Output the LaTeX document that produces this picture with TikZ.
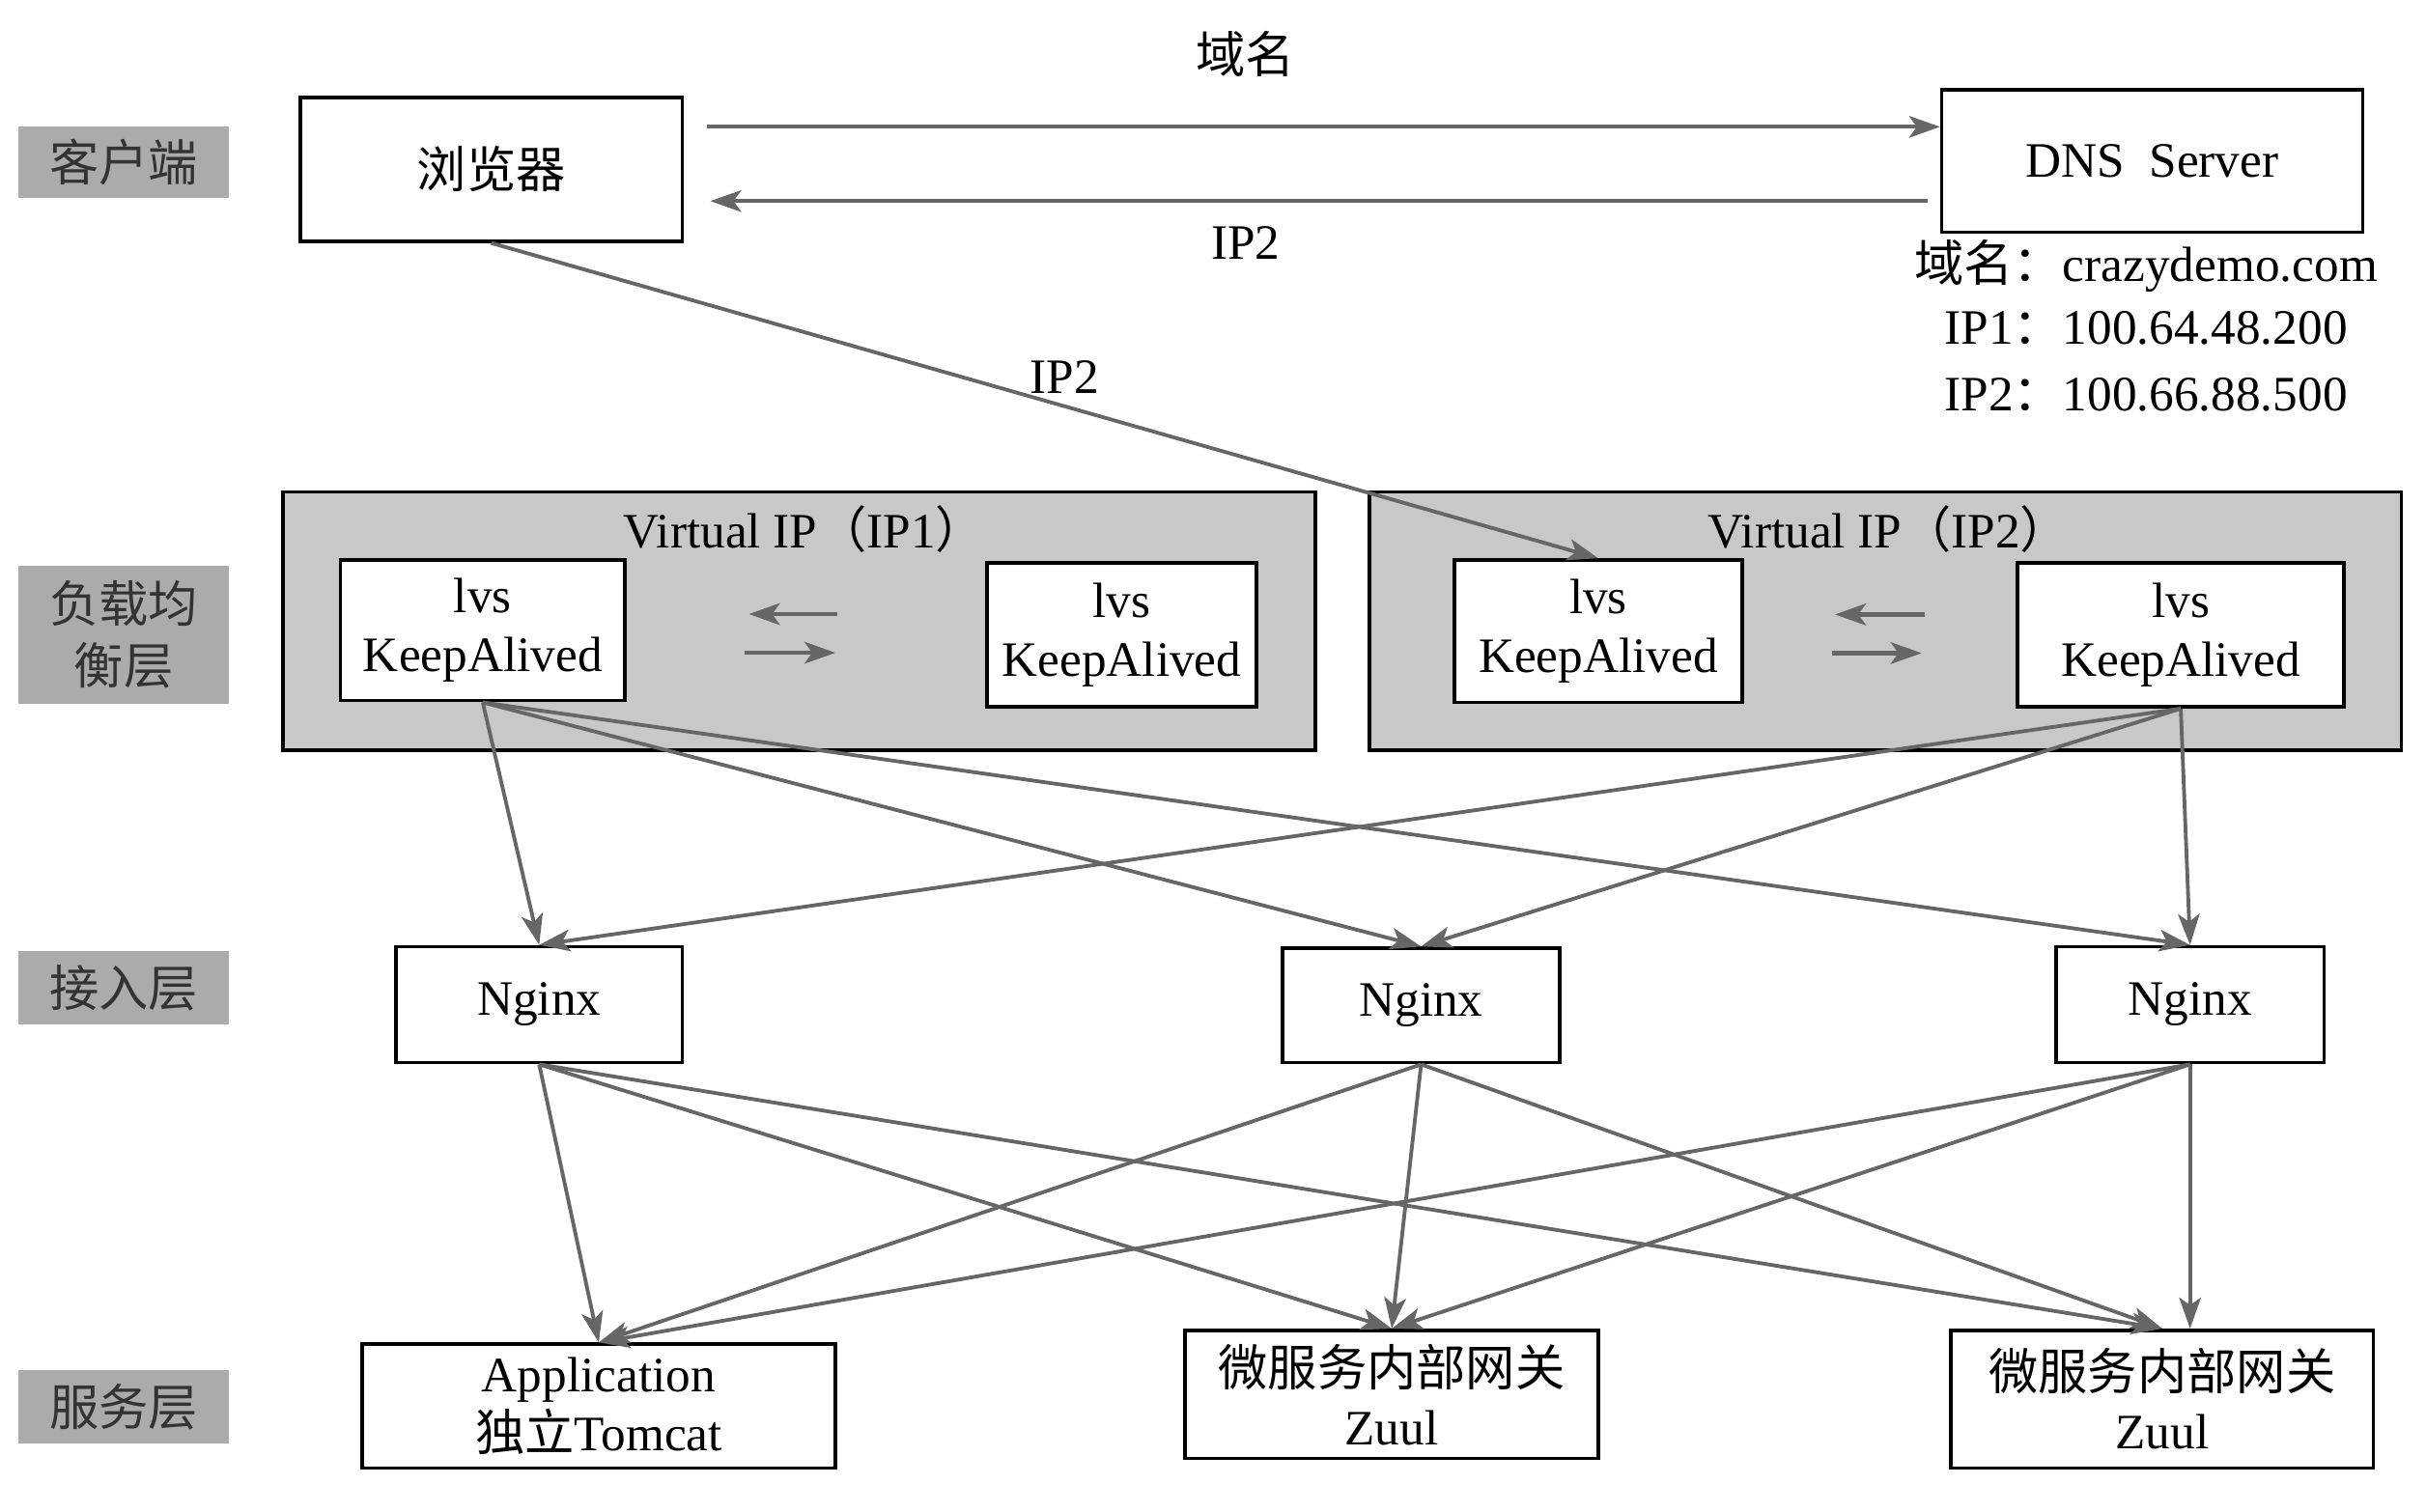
\documentclass[tikz,border=0pt]{standalone}
\usepackage{fontspec}
\setmainfont{Liberation Serif}
\newfontfamily\cjk{Noto Sans CJK SC}
\usetikzlibrary{arrows.meta,calc}

\definecolor{linegray}{HTML}{666666}
\definecolor{layergray}{HTML}{ABABAB}
\definecolor{vipgray}{HTML}{C8C8C8}

\begin{document}
\begin{tikzpicture}[x=0.5pt, y=-0.5pt,
        every node/.style={font=\fontsize{16}{19}\selectfont, inner sep=0pt},
        layer/.style={fill=layergray, text=black!80, minimum width=68pt, align=center,
            font=\fontsize{16}{20}\selectfont\cjk},
        box/.style={draw=black, line width=1.1pt, fill=white, align=center},
        vip/.style={draw=black, line width=1.1pt, fill=vipgray,
            minimum width=333.5pt, minimum height=83.5pt},
        conn/.style={draw=linegray, line width=1.2pt, -{Stealth[length=10pt,width=7pt,inset=2.5pt]}},
        swap/.style={conn, line width=1.5pt},
    ]
\useasboundingbox (0,0) rectangle (1568,977.5);

% layer labels
\node[layer, minimum height=23pt] (cli) at (80,105) {客户端};
\node[layer, minimum height=44.5pt] (lb) at (80,410.5) {负载均\\衡层};
\node[layer, minimum height=23.5pt] (acc) at (80,638.5) {接入层};
\node[layer, minimum height=23.5pt] (svc) at (80,909.5) {服务层};

% client and dns
\node[box, minimum width=123.5pt, minimum height=46.5pt, font=\fontsize{16}{19}\selectfont\cjk] (brow) at (317.5,109.5) {浏览器};
\node[box, minimum width=136pt, minimum height=46pt] (dns) at (1391,104) {DNS~~Server};
\node (dnsname) at (1387,172) {{\cjk 域名：}crazydemo.com};
\node (dnsip1) at (1387,212) {IP1{\cjk ：}100.64.48.200};
\node (dnsip2) at (1387,255) {IP2{\cjk ：}100.66.88.500};

% load balancing
\node[vip] (vip1) at (516.5,401.5) {};
\node[vip] (vip2) at (1218.5,401.5) {};
\node (vip1t) at (520,342) {Virtual IP{\cjk （}IP1{\cjk ）}};
\node (vip2t) at (1221,342) {Virtual IP{\cjk （}IP2{\cjk ）}};
\node[box, minimum width=92pt, minimum height=45.5pt] (lvsA) at (312,407.5) {lvs\\KeepAlived};
\node[box, minimum width=87pt, minimum height=46.5pt] (lvsB) at (725,410.5) {lvs\\KeepAlived};
\node[box, minimum width=93pt, minimum height=46pt] (lvsC) at (1033,408) {lvs\\KeepAlived};
\node[box, minimum width=105.5pt, minimum height=46.5pt] (lvsD) at (1409.5,410.5) {lvs\\KeepAlived};

% access layer
\node[box, minimum width=92.5pt, minimum height=37.5pt] (ngx1) at (348.5,649.5) {Nginx};
\node[box, minimum width=89.5pt, minimum height=37pt] (ngx2) at (918.5,650) {Nginx};
\node[box, minimum width=86.5pt, minimum height=37.5pt] (ngx3) at (1415.5,649.5) {Nginx};

% service layer
\node[box, minimum width=153pt, minimum height=40pt] (app) at (387,909) {Application\\{\cjk 独立}Tomcat};
\node[box, minimum width=133.5pt, minimum height=41.5pt] (zuul1) at (899.5,901.5) {{\cjk 微服务内部网关}\\Zuul};
\node[box, minimum width=136.5pt, minimum height=44.5pt] (zuul2) at (1397.5,904.5) {{\cjk 微服务内部网关}\\Zuul};

% dns lookup
\draw[conn, shorten <=7.5pt] ([yshift=13.75pt]brow.east) -- ([yshift=13.75pt]brow.east -| dns.west);
\draw[conn, shorten <=4pt, shorten >=8.5pt] ([yshift=-10.25pt]brow.east -| dns.west) -- ([yshift=-10.25pt]brow.east);
\node[font=\fontsize{16}{19}\selectfont\cjk] (askname) at (805,35) {域名};
\node (answer) at (805,157) {IP2};

% browser goes to IP2
\draw[conn] (brow.south) -- (lvsC.north);
\node (goip) at (688,244) {IP2};

% keepalived pairs
\coordinate (midA) at ($(lvsA.east)!0.5!(lvsB.west)$);
\coordinate (midB) at ($(lvsC.east)!0.5!(lvsD.west)$);
\draw[swap] ($(midA)+(20,-12)$) -- ($(midA)+(-37,-12)$);
\draw[swap] ($(midA)+(-40,13)$) -- ($(midA)+(19,13)$);
\draw[swap] ($(midB)+(29,-12)$) -- ($(midB)+(-29,-12)$);
\draw[swap] ($(midB)+(-31,13)$) -- ($(midB)+(27,13)$);

% balancer to nginx
\foreach \n in {ngx1,ngx2,ngx3}{
    \draw[conn] (lvsA.south) -- (\n.north);
    \draw[conn] (lvsD.south) -- (\n.north);
}

% nginx to services
\foreach \n in {ngx1,ngx2}
    \foreach \s in {app,zuul1,zuul2}
        \draw[conn] (\n.south) -- (\s.north);
\draw[conn] (ngx3.south) -- (app.north);
\draw[conn] (ngx3.south) -- (zuul1.north);
\draw[conn] (ngx3.south) -- (ngx3.south |- zuul2.north);

\end{tikzpicture}
\end{document}
